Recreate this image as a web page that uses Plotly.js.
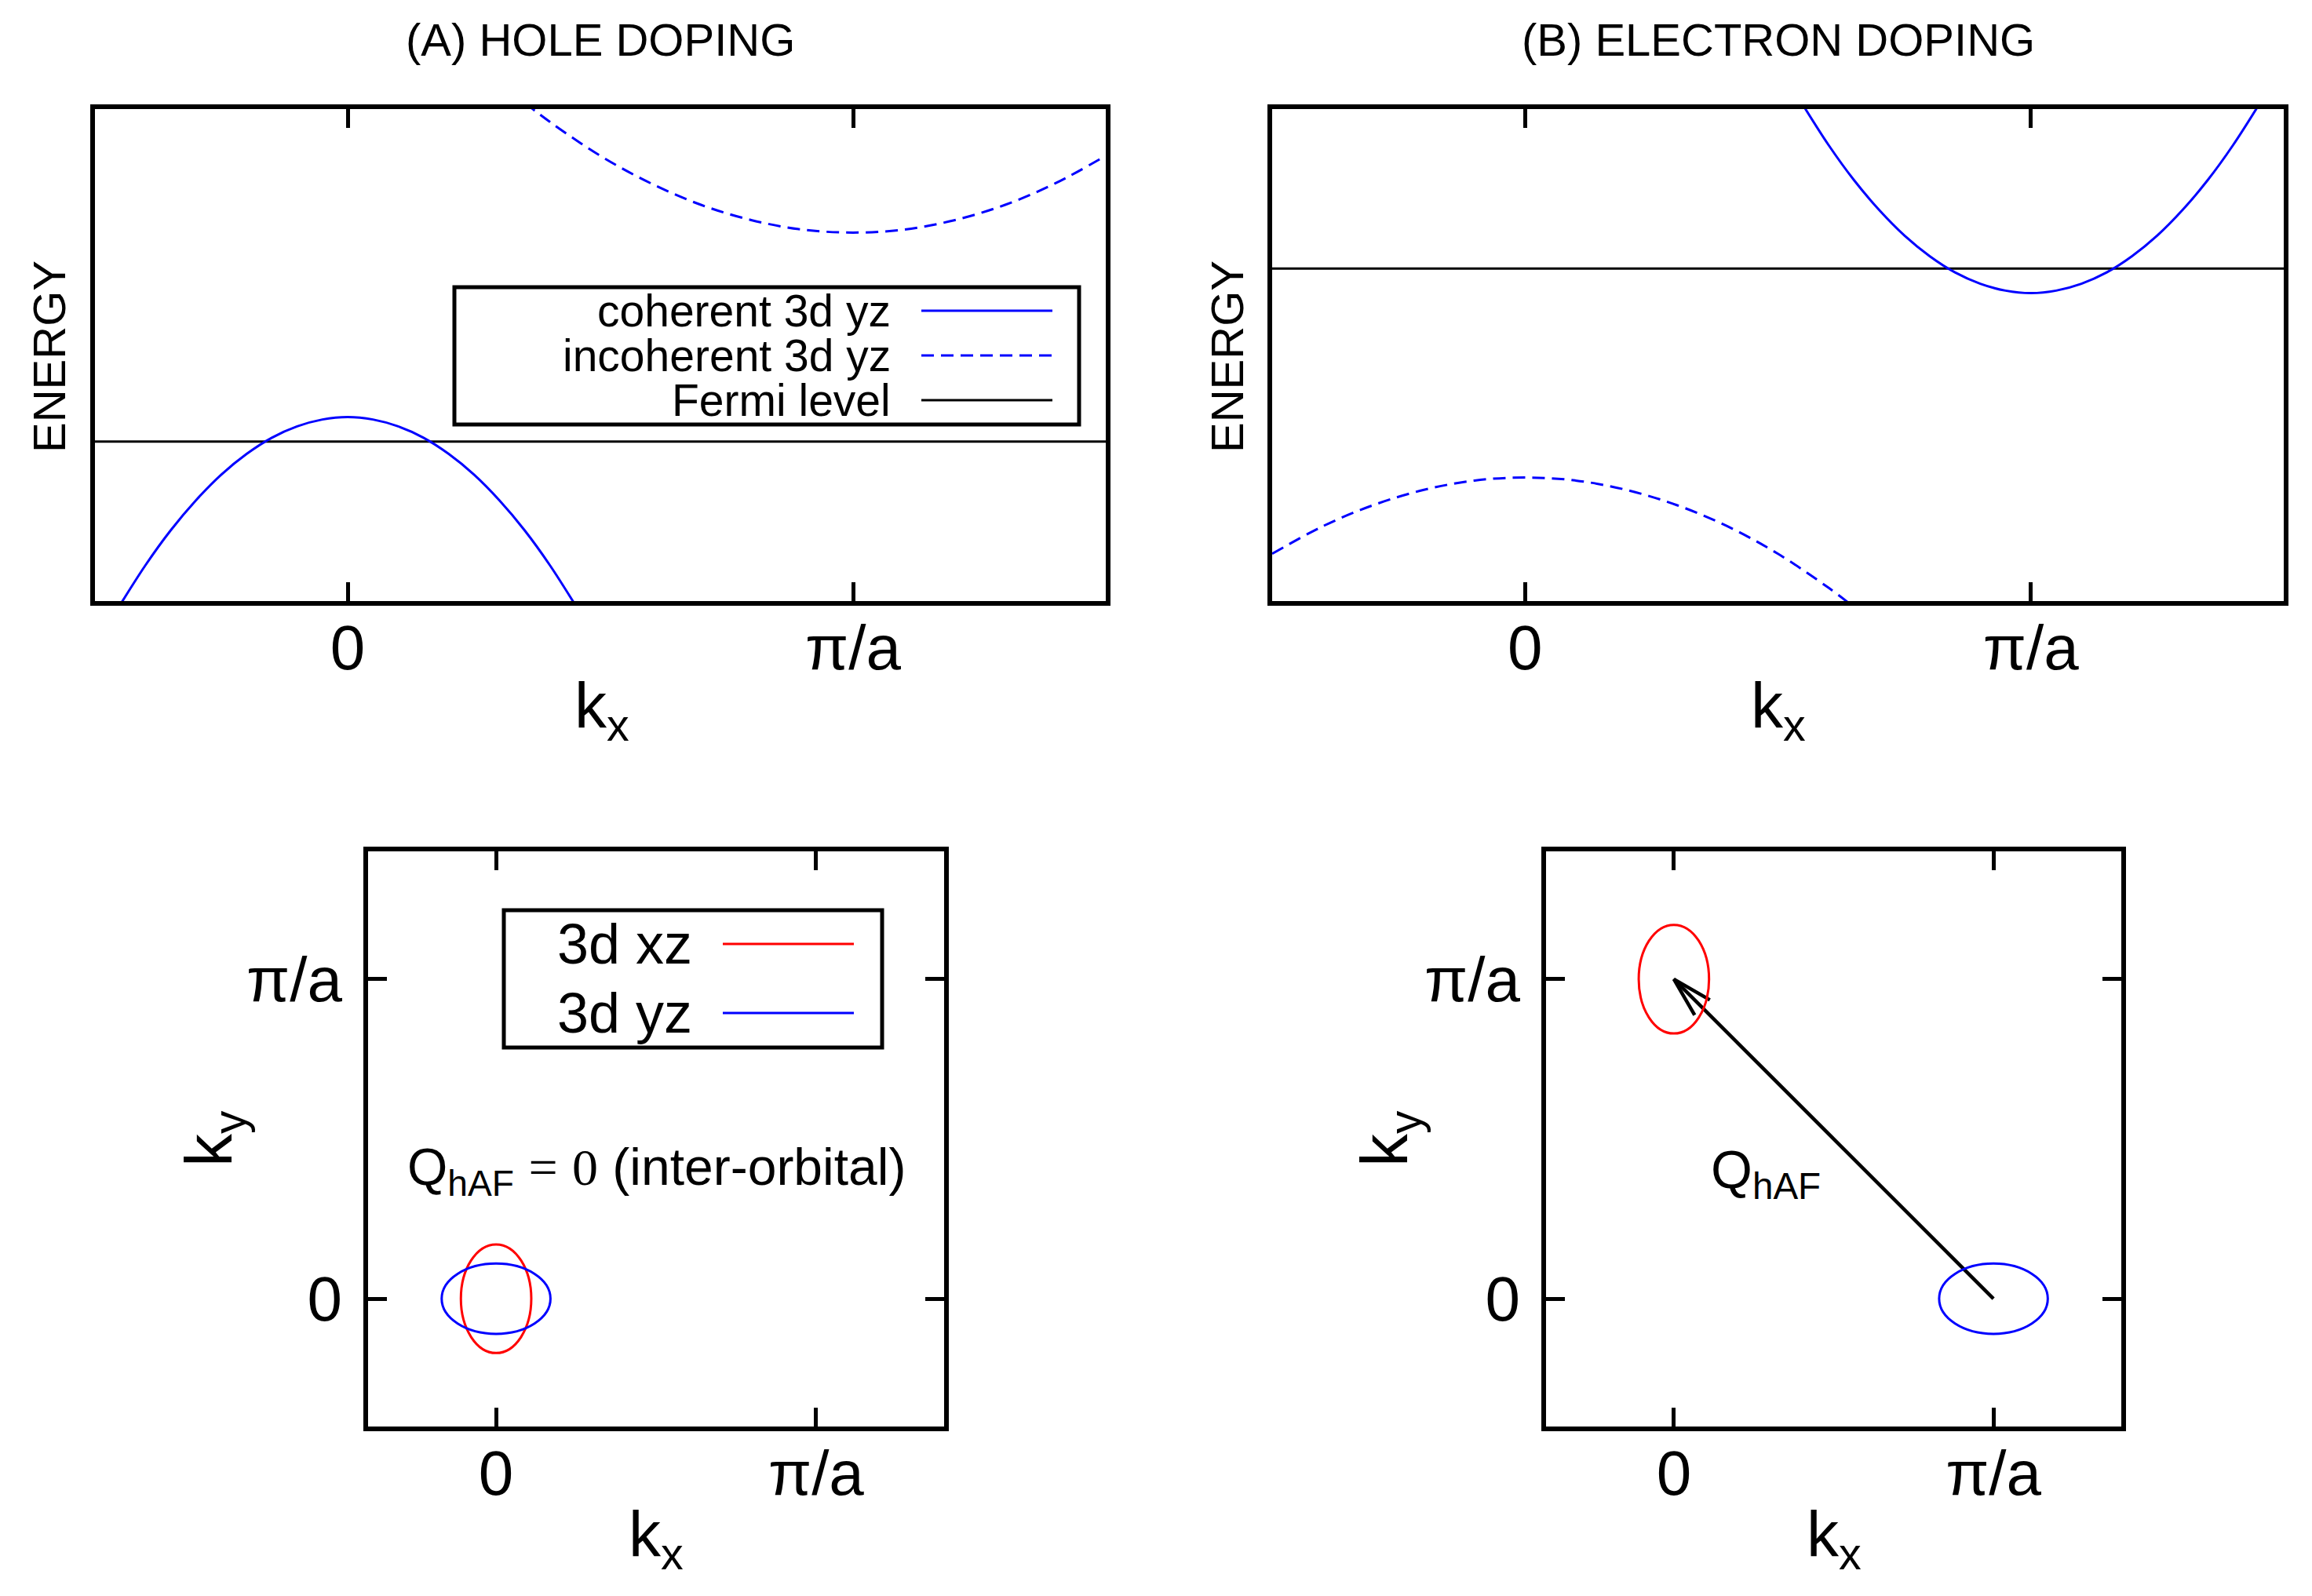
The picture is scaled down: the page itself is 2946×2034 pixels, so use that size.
<!DOCTYPE html>
<html>
<head>
<meta charset="utf-8">
<script src="https://cdn.plot.ly/plotly-3.0.1.min.js"></script>
<style>
  html, body { margin: 0; padding: 0; background: #ffffff; }
  #chart { width: 2946px; height: 2034px; }
</style>
</head>
<body>
<div id="chart"></div>
<script>
// ---------------- data ----------------
const tickVals = [0, 1];
const tickText = ['0', 'π/a'];
const bandRange = [-0.5, 1.5];
const fsRange = [-0.4, 1.4];
const energyRange = [0, 1];

// (A) hole doping
const holeCohK = [-0.46, -0.4, -0.35, -0.3, -0.25, -0.2, -0.15, -0.1, -0.05, 0, 0.05, 0.1, 0.15, 0.2, 0.25, 0.3, 0.35, 0.4, 0.46];
const holeCohE = [-0.024, 0.073, 0.144, 0.205, 0.257, 0.299, 0.332, 0.355, 0.369, 0.374, 0.369, 0.355, 0.332, 0.299, 0.257, 0.205, 0.144, 0.073, -0.024];
const holeIncK = [0.35, 0.4, 0.5, 0.6, 0.7, 0.8, 0.9, 1.0, 1.1, 1.2, 1.3, 1.4, 1.5];
const holeIncE = [1.013, 0.974, 0.905, 0.849, 0.805, 0.774, 0.755, 0.749, 0.755, 0.774, 0.805, 0.849, 0.905];
const holeFermi = 0.324;

// (B) electron doping
const elecCohK = [0.54, 0.6, 0.65, 0.7, 0.75, 0.8, 0.85, 0.9, 0.95, 1.0, 1.05, 1.1, 1.15, 1.2, 1.25, 1.3, 1.35, 1.4, 1.46];
const elecCohE = [1.024, 0.927, 0.856, 0.795, 0.743, 0.701, 0.668, 0.645, 0.631, 0.626, 0.631, 0.645, 0.668, 0.701, 0.743, 0.795, 0.856, 0.927, 1.024];
const elecIncK = [-0.5, -0.4, -0.3, -0.2, -0.1, 0, 0.1, 0.2, 0.3, 0.4, 0.5, 0.6, 0.65];
const elecIncE = [0.096, 0.152, 0.195, 0.226, 0.245, 0.251, 0.245, 0.226, 0.195, 0.152, 0.096, 0.027, -0.012];
const elecFermi = 0.676;

const bandNames = ['coherent 3d yz', 'incoherent 3d yz', 'Fermi level'];

// Fermi-surface pockets (kx, ky in units of pi/a)
const pocketNames = ['3d xz', '3d yz'];
const pocketRx = [0.11, 0.17];
const pocketRy = [0.17, 0.11];
const holePocketX = [0, 0];
const holePocketY = [0, 0];
const elecPocketX = [0, 1];
const elecPocketY = [1, 0];

// nesting vector Q_hAF (electron doping)
const qTail = [1, 0];
const qHead = [0, 1];

// ---------------- styling / layout ----------------
const W = 2946, H = 2034;
const px = v => v / W;
const py = v => 1 - v / H;
const BLUE = '#0000ff', RED = '#ff0000', BLACK = '#000000';
const FONT = '"Liberation Sans", Arial, Helvetica, sans-serif';
const DASH = '16px,9px';
const pocketColors = [RED, BLUE];

function xAxis(x0, x1, range, anchor) {
  return {
    domain: [px(x0), px(x1)], range: range, anchor: anchor,
    tickmode: 'array', tickvals: tickVals, ticktext: tickText,
    ticks: 'inside', ticklen: 24, tickwidth: 5, tickcolor: BLACK,
    showline: true, linewidth: 6, linecolor: BLACK, mirror: 'ticks',
    showgrid: false, zeroline: false, fixedrange: true,
    tickfont: { family: FONT, size: 80, color: BLACK },
    ticklabelstandoff: -15
  };
}
function yAxisEnergy(y0, y1, anchor) {
  return {
    domain: [py(y1), py(y0)], range: energyRange, anchor: anchor,
    ticks: '', showticklabels: false,
    showline: true, linewidth: 6, linecolor: BLACK, mirror: true,
    showgrid: false, zeroline: false, fixedrange: true
  };
}
function yAxisK(y0, y1, anchor) {
  return {
    domain: [py(y1), py(y0)], range: fsRange, anchor: anchor,
    tickmode: 'array', tickvals: tickVals, ticktext: tickText,
    ticks: 'inside', ticklen: 24, tickwidth: 5, tickcolor: BLACK,
    showline: true, linewidth: 6, linecolor: BLACK, mirror: 'ticks',
    showgrid: false, zeroline: false, fixedrange: true,
    tickfont: { family: FONT, size: 80, color: BLACK },
    ticklabelstandoff: 11
  };
}

const traces = [];
function line(xa, ya, x, y, color, width, dash, name) {
  traces.push({
    type: 'scatter', mode: 'lines', xaxis: xa, yaxis: ya, x: x, y: y, name: name,
    showlegend: false, hoverinfo: 'skip',
    line: { color: color, width: width, dash: dash || 'solid', shape: 'spline', smoothing: 1 }
  });
}

// panel A
line('x', 'y', bandRange, [holeFermi, holeFermi], BLACK, 3, 'solid', bandNames[2]);
line('x', 'y', holeCohK, holeCohE, BLUE, 3, 'solid', bandNames[0]);
line('x', 'y', holeIncK, holeIncE, BLUE, 3, DASH, bandNames[1]);
// panel B
line('x2', 'y2', bandRange, [elecFermi, elecFermi], BLACK, 3, 'solid', bandNames[2]);
line('x2', 'y2', elecCohK, elecCohE, BLUE, 3, 'solid', bandNames[0]);
line('x2', 'y2', elecIncK, elecIncE, BLUE, 3, DASH, bandNames[1]);

// panel D arrow (shaft + open head computed from the vector)
const headLen = 0.13, headAng = 15 * Math.PI / 180;
const dX = qHead[0] - qTail[0], dY = qHead[1] - qTail[1];
const dL = Math.hypot(dX, dY), ux = dX / dL, uy = dY / dL;
function headPt(a) {
  return [qHead[0] - headLen * (ux * Math.cos(a) - uy * Math.sin(a)),
          qHead[1] - headLen * (ux * Math.sin(a) + uy * Math.cos(a))];
}
const h1 = headPt(headAng), h2 = headPt(-headAng);
traces.push({ type: 'scatter', mode: 'lines', xaxis: 'x4', yaxis: 'y4', showlegend: false, hoverinfo: 'skip',
  x: [qTail[0], qHead[0]], y: [qTail[1], qHead[1]], line: { color: BLACK, width: 4.5 } });
traces.push({ type: 'scatter', mode: 'lines', xaxis: 'x4', yaxis: 'y4', showlegend: false, hoverinfo: 'skip',
  x: [h1[0], qHead[0], h2[0]], y: [h1[1], qHead[1], h2[1]], line: { color: BLACK, width: 4.5 } });

// pockets as ellipse shapes in data coordinates
const shapes = [];
function pockets(xr, yr, cx, cy) {
  for (let i = 0; i < pocketNames.length; i++) {
    shapes.push({ type: 'circle', xref: xr, yref: yr, layer: 'above',
      x0: cx[i] - pocketRx[i], x1: cx[i] + pocketRx[i],
      y0: cy[i] - pocketRy[i], y1: cy[i] + pocketRy[i],
      line: { color: pocketColors[i], width: 3 } });
  }
}
pockets('x3', 'y3', holePocketX, holePocketY);
pockets('x4', 'y4', elecPocketX, elecPocketY);

const annotations = [];
function txt(text, x, y, size, opts) {
  annotations.push(Object.assign({ text: text, xref: 'paper', yref: 'paper', x: px(x), y: py(y),
    xanchor: 'center', yanchor: 'middle', showarrow: false,
    font: { family: FONT, size: size, color: BLACK } }, opts || {}));
}

// manual gnuplot-style legends (text left, sample right)
function legendBox(x0, x1, y0, y1, textRight, s0, s1, rows, labels, colors, dashes, size) {
  shapes.push({ type: 'rect', xref: 'paper', yref: 'paper', x0: px(x0), x1: px(x1), y0: py(y1), y1: py(y0),
    line: { color: BLACK, width: 5 }, fillcolor: 'rgba(0,0,0,0)', layer: 'above' });
  for (let i = 0; i < labels.length; i++) {
    txt(labels[i], textRight, rows[i], size, { xanchor: 'right' });
    shapes.push({ type: 'line', xref: 'paper', yref: 'paper', x0: px(s0), x1: px(s1), y0: py(rows[i]), y1: py(rows[i]),
      line: { color: colors[i], width: 3, dash: dashes[i] }, layer: 'above' });
  }
}
legendBox(579, 1375, 366, 541, 1137, 1174, 1341, [396, 453, 510], bandNames, [BLUE, BLUE, BLACK], ['solid', DASH, 'solid'], 57);
legendBox(642, 1124, 1160, 1335, 884, 921, 1088, [1203, 1291], pocketNames, pocketColors, ['solid', 'solid'], 72);

// titles and axis labels
txt('(A) HOLE DOPING', 765, 51, 58);
txt('(B) ELECTRON DOPING', 2266, 51, 58);
txt('ENERGY', 62, 455, 58, { textangle: -90 });
txt('ENERGY', 1563, 455, 58, { textangle: -90 });
txt('k<sub>x</sub>', 767, 904, 82);
txt('k<sub>x</sub>', 2266, 904, 82);
txt('k<sub>x</sub>', 836, 1960, 82);
txt('k<sub>x</sub>', 2337, 1960, 82);
txt('k<sub>y</sub>', 272, 1451, 84, { textangle: -90 });
txt('k<sub>y</sub>', 1770, 1451, 84, { textangle: -90 });
txt('Q<sub>hAF</sub> <span style="font-family:Liberation Serif">=</span> <span style="font-family:Liberation Serif">0</span> (inter-orbital)', 836, 1492, 66);
txt('Q<sub>hAF</sub>', 2250, 1495, 68);

const layout = {
  width: W, height: H,
  margin: { l: 0, r: 0, t: 0, b: 0, pad: 0 },
  paper_bgcolor: '#ffffff', plot_bgcolor: '#ffffff',
  showlegend: false,
  font: { family: FONT, color: BLACK },
  xaxis: xAxis(121, 1409, bandRange, 'y'),
  yaxis: yAxisEnergy(139, 766, 'x'),
  xaxis2: xAxis(1621, 2910, bandRange, 'y2'),
  yaxis2: yAxisEnergy(139, 766, 'x2'),
  xaxis3: xAxis(469, 1203, fsRange, 'y3'),
  yaxis3: yAxisK(1085, 1818, 'x3'),
  xaxis4: xAxis(1970, 2703, fsRange, 'y4'),
  yaxis4: yAxisK(1085, 1818, 'x4'),
  shapes: shapes,
  annotations: annotations
};

Plotly.newPlot('chart', traces, layout, { staticPlot: true, displayModeBar: false });
</script>
</body>
</html>
